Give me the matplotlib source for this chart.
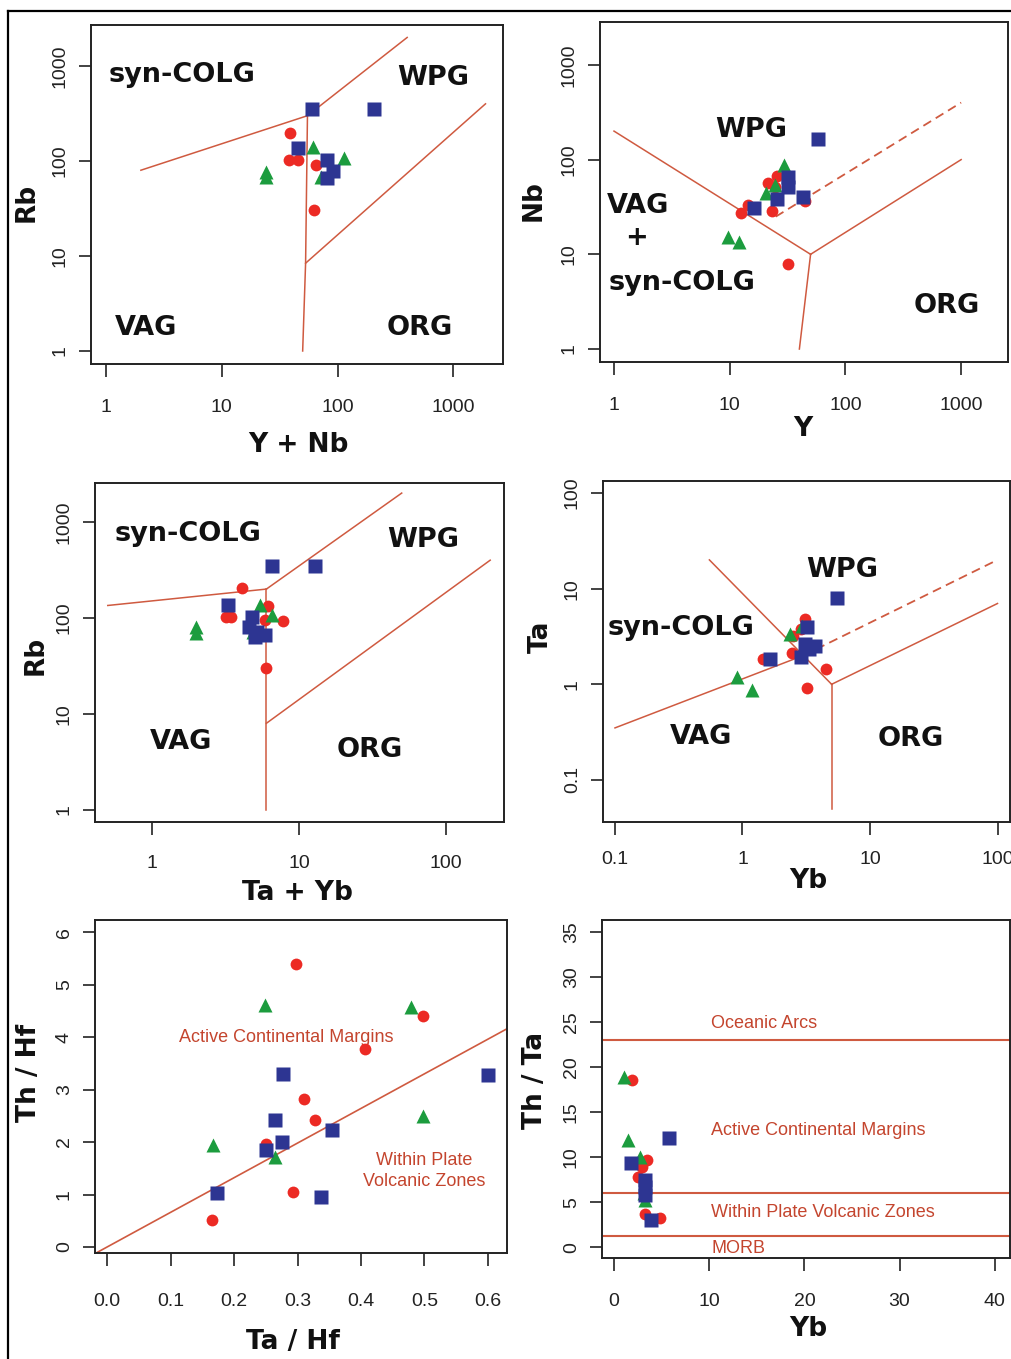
import matplotlib
matplotlib.use('Agg')
import matplotlib.pyplot as plt
from matplotlib.lines import Line2D

W, H, DPI = 1012, 1359, 100

RED = '#ec2a24'
GREEN = '#1c9c3e'
BLUE = '#2d3592'
LINEC = '#cf5a40'
TXTC = '#c4452e'

# ---------------- Panel 1: Rb vs Y+Nb ----------------
p1_red_x = [38.6, 38, 45.5, 65.5, 63]
p1_red_y = [195, 103, 103, 91, 30.5]
p1_green_x = [24.3, 24.3, 61, 113, 72]
p1_green_y = [77, 68, 141, 107, 68]
p1_blue_x = [60.5, 208, 45.5, 81, 91, 81]
p1_blue_y = [352, 352, 138, 103, 79, 66]
p1_bounds = [([2, 55], [80, 300]), ([55, 400], [300, 2000]),
             ([55, 53, 50], [300, 8.4, 1]), ([53, 1900], [8.4, 400])]

# ---------------- Panel 2: Nb vs Y ----------------
p2_red_x = [12.5, 14.5, 23, 21.3, 25.5, 45, 31.7, 24.6]
p2_red_y = [27, 33, 29, 57, 67, 37, 7.9, 52]
p2_green_x = [29.7, 20.5, 24.6, 9.7, 12]
p2_green_y = [88, 44, 54, 15.4, 13.6]
p2_blue_x = [58, 31.7, 31.7, 25.5, 43, 16.3]
p2_blue_y = [164, 66, 52, 38, 40, 30.6]
p2_bounds = [([1, 50], [200, 10]), ([50, 1000], [10, 100]), ([50, 40], [10, 1])]
p2_dashed = ([25, 1000], [25, 400])

# ---------------- Panel 3: Rb vs Ta+Yb ----------------
p3_red_x = [4.07, 3.2, 3.45, 6.2, 5.87, 7.75, 6.0]
p3_red_y = [204, 103, 103, 133, 95, 92, 30]
p3_green_x = [2.0, 2.0, 5.43, 6.6, 4.9]
p3_green_y = [81, 69, 137, 107, 72]
p3_blue_x = [6.6, 12.8, 3.3, 4.77, 4.6, 5.15, 5.87, 5.0]
p3_blue_y = [350, 350, 137, 103, 81, 72, 66.5, 64]
p3_bounds = [([0.5, 6], [135, 200]), ([6, 50], [200, 2000]),
             ([6, 6], [200, 1]), ([6, 200], [8, 400])]

# ---------------- Panel 4: Ta vs Yb ----------------
p4_red_x = [3.09, 1.46, 2.43, 2.5, 4.5, 3.2, 2.9]
p4_red_y = [4.8, 1.86, 2.15, 3.2, 1.44, 0.92, 3.8]
p4_green_x = [2.95, 2.36, 0.91, 1.18]
p4_green_y = [4.1, 3.36, 1.2, 0.87]
p4_blue_x = [5.5, 3.2, 3.09, 3.7, 2.9, 1.64, 3.3]
p4_blue_y = [8.0, 3.95, 2.64, 2.53, 1.91, 1.83, 2.33]
p4_bounds = [([0.1, 3], [0.35, 2]), ([0.55, 5], [20, 1]),
             ([5, 5], [1, 0.05]), ([5, 100], [1, 7])]
p4_dashed = ([3, 100], [2, 20])

# ---------------- Panel 5: Th/Hf vs Ta/Hf ----------------
p5_red_x = [0.297, 0.497, 0.406, 0.311, 0.328, 0.251, 0.293, 0.165]
p5_red_y = [5.39, 4.40, 3.78, 2.82, 2.42, 1.96, 1.05, 0.51]
p5_green_x = [0.249, 0.479, 0.497, 0.167, 0.265]
p5_green_y = [4.61, 4.58, 2.50, 1.94, 1.72]
p5_blue_x = [0.277, 0.600, 0.265, 0.275, 0.251, 0.355, 0.173, 0.337]
p5_blue_y = [3.30, 3.28, 2.42, 2.01, 1.85, 2.22, 1.02, 0.96]
p5_bound = ([-0.05, 0.70], [-0.33, 4.62])

# ---------------- Panel 6: Th/Ta vs Yb ----------------
p6_red_x = [1.92, 3.43, 2.55, 2.9, 3.26, 4.83]
p6_red_y = [18.5, 9.7, 7.8, 8.9, 3.7, 3.26]
p6_green_x = [1.08, 1.5, 2.73, 3.26, 3.2]
p6_green_y = [18.9, 11.9, 10.0, 5.2, 6.0]
p6_blue_x = [5.78, 1.79, 3.26, 3.26, 3.26, 3.89]
p6_blue_y = [12.1, 9.3, 7.4, 6.7, 5.8, 3.0]
p6_levels = [23, 6, 1.2]

log_ticks_1 = [1, 10, 100, 1000]
log_labels_1 = ['1', '10', '100', '1000']
log_ticks_3x = [1, 10, 100]
log_labels_3x = ['1', '10', '100']
log_ticks_4 = [0.1, 1, 10, 100]
log_labels_4 = ['0.1', '1', '10', '100']
p5_xticks = [0.0, 0.1, 0.2, 0.3, 0.4, 0.5, 0.6]
p5_xlabels = ['0.0', '0.1', '0.2', '0.3', '0.4', '0.5', '0.6']
p5_yticks = [0, 1, 2, 3, 4, 5, 6]
p6_xticks = [0, 10, 20, 30, 40]
p6_yticks = [0, 5, 10, 15, 20, 25, 30, 35]

fig = plt.figure(figsize=(W / DPI, H / DPI), dpi=DPI, facecolor='white')

TICKFONT = dict(family='Liberation Sans', size=14, color='#222222')
LABFONT = dict(family='DejaVu Sans', size=19, weight='bold', color='#111111')
REGFONT = dict(family='DejaVu Sans', size=19.5, weight='bold', color='#111111')
ZONEFONT = dict(family='Liberation Sans', size=13, color=TXTC)


def make_ax(l, t, r, b):
    ax = fig.add_axes([l / W, 1 - b / H, (r - l) / W, (b - t) / H])
    for s in ax.spines.values():
        s.set_linewidth(1.4)
        s.set_color('#222222')
    return ax


def style(ax, xt, xl, yt, yl, logx=False, logy=False, xpad=14, ypad=7):
    if logx:
        ax.set_xscale('log')
    if logy:
        ax.set_yscale('log')
    ax.set_xticks(xt)
    ax.set_xticklabels(xl)
    ax.set_yticks(yt)
    ax.set_yticklabels(yl)
    ax.minorticks_off()
    ax.tick_params(axis='both', length=9, width=1.2, color='#222222')
    ax.tick_params(axis='x', pad=xpad)
    ax.tick_params(axis='y', pad=ypad)
    for lab in ax.get_xticklabels():
        lab.set(**TICKFONT)
    for lab in ax.get_yticklabels():
        lab.set(**TICKFONT)
        lab.set_rotation(90)
        lab.set_va('center')


def pts(ax, rx, ry, gx, gy, bx, by):
    ax.plot(rx, ry, 'o', color=RED, ms=8.5, mec='none', zorder=5)
    ax.plot(gx, gy, '^', color=GREEN, ms=10.5, mec='none', zorder=6)
    ax.plot(bx, by, 's', color=BLUE, ms=10, mec='none', zorder=7)


def labels(ax, xl, xc, yl, yc, box):
    l, t, r, b = box
    ax.set_xlabel(xl, **LABFONT)
    ax.set_ylabel(yl, **LABFONT)
    ax.xaxis.set_label_coords((xc[0] - l) / (r - l), (b - xc[1]) / (b - t))
    ax.yaxis.set_label_coords((yc[0] - l) / (r - l), (b - yc[1]) / (b - t))
    ax.xaxis.label.set_va('center')
    ax.xaxis.label.set_ha('center')
    ax.yaxis.label.set_va('center')
    ax.yaxis.label.set_ha('center')


def region(ax, x, y, s):
    ax.text(x, y, s, transform=ax.transAxes, ha='center', va='center', **REGFONT)


# ---- Panel 1
box1 = (91, 25, 503, 364)
ax1 = make_ax(*box1)
for xs, ys in p1_bounds:
    ax1.plot(xs, ys, color=LINEC, lw=1.1)
pts(ax1, p1_red_x, p1_red_y, p1_green_x, p1_green_y, p1_blue_x, p1_blue_y)
style(ax1, log_ticks_1, log_labels_1, log_ticks_1, log_labels_1, True, True, xpad=16)
ax1.set_xlim(10 ** -0.13, 10 ** 3.43)
ax1.set_ylim(10 ** -0.137, 10 ** 3.432)
region(ax1, 0.221, 0.853, 'syn-COLG')
region(ax1, 0.830, 0.844, 'WPG')
region(ax1, 0.134, 0.106, 'VAG')
region(ax1, 0.799, 0.106, 'ORG')
labels(ax1, 'Y + Nb', (298, 445), 'Rb', (27, 202), box1)

# ---- Panel 2
box2 = (600, 22, 1008, 362)
ax2 = make_ax(*box2)
for xs, ys in p2_bounds:
    ax2.plot(xs, ys, color=LINEC, lw=1.1)
ax2.plot(*p2_dashed, color=LINEC, lw=1.3, ls=(0, (5, 3)))
pts(ax2, p2_red_x, p2_red_y, p2_green_x, p2_green_y, p2_blue_x, p2_blue_y)
style(ax2, log_ticks_1, log_labels_1, log_ticks_1, log_labels_1, True, True, xpad=16)
ax2.set_xlim(10 ** -0.121, 10 ** 3.405)
ax2.set_ylim(10 ** -0.137, 10 ** 3.453)
region(ax2, 0.371, 0.682, 'WPG')
region(ax2, 0.093, 0.459, 'VAG')
region(ax2, 0.090, 0.365, '+')
region(ax2, 0.202, 0.232, 'syn-COLG')
region(ax2, 0.851, 0.165, 'ORG')
labels(ax2, 'Y', (803, 429), 'Nb', (534, 201), box2)

# ---- Panel 3
box3 = (95, 483, 504, 822)
ax3 = make_ax(*box3)
for xs, ys in p3_bounds:
    ax3.plot(xs, ys, color=LINEC, lw=1.1)
pts(ax3, p3_red_x, p3_red_y, p3_green_x, p3_green_y, p3_blue_x, p3_blue_y)
style(ax3, log_ticks_3x, log_labels_3x, log_ticks_1, log_labels_1, True, True, xpad=15)
ax3.set_xlim(10 ** -0.388, 10 ** 2.395)
ax3.set_ylim(10 ** -0.125, 10 ** 3.406)
region(ax3, 0.227, 0.850, 'syn-COLG')
region(ax3, 0.802, 0.832, 'WPG')
region(ax3, 0.210, 0.236, 'VAG')
region(ax3, 0.672, 0.212, 'ORG')
labels(ax3, 'Ta + Yb', (297, 893), 'Rb', (36, 655), box3)

# ---- Panel 4
box4 = (603, 481, 1010, 822)
ax4 = make_ax(*box4)
for xs, ys in p4_bounds:
    ax4.plot(xs, ys, color=LINEC, lw=1.1)
ax4.plot(*p4_dashed, color=LINEC, lw=1.3, ls=(0, (5, 3)))
pts(ax4, p4_red_x, p4_red_y, p4_green_x, p4_green_y, p4_blue_x, p4_blue_y)
style(ax4, log_ticks_4, log_labels_4, log_ticks_4, log_labels_4, True, True, xpad=12)
ax4.set_xlim(10 ** -1.094, 10 ** 2.098)
ax4.set_ylim(10 ** -1.44, 10 ** 2.126)
region(ax4, 0.587, 0.739, 'WPG')
region(ax4, 0.192, 0.569, 'syn-COLG')
region(ax4, 0.241, 0.249, 'VAG')
region(ax4, 0.757, 0.243, 'ORG')
labels(ax4, 'Yb', (808, 881), 'Ta', (541, 637), box4)

# ---- Panel 5
box5 = (95, 920, 507, 1253)
ax5 = make_ax(*box5)
ax5.plot(*p5_bound, color=LINEC, lw=1.2)
pts(ax5, p5_red_x, p5_red_y, p5_green_x, p5_green_y, p5_blue_x, p5_blue_y)
style(ax5, p5_xticks, p5_xlabels, p5_yticks, [str(v) for v in p5_yticks], xpad=20)
ax5.set_xlim(-0.019, 0.630)
ax5.set_ylim(-0.114, 6.23)
ax5.text(0.283, 4.0, 'Active Continental Margins', ha='center', va='center', **ZONEFONT)
ax5.text(0.50, 1.45, 'Within Plate\nVolcanic Zones', ha='center', va='center',
         linespacing=1.25, **ZONEFONT)
labels(ax5, 'Ta / Hf', (293, 1342), 'Th / Hf', (29, 1073), box5)

# ---- Panel 6
box6 = (602, 920, 1010, 1258)
ax6 = make_ax(*box6)
for lv in p6_levels:
    ax6.axhline(lv, color=LINEC, lw=1.5)
pts(ax6, p6_red_x, p6_red_y, p6_green_x, p6_green_y, p6_blue_x, p6_blue_y)
style(ax6, p6_xticks, [str(v) for v in p6_xticks], p6_yticks, [str(v) for v in p6_yticks], xpad=16)
ax6.set_xlim(-1.26, 41.6)
ax6.set_ylim(-1.2, 36.3)
ax6.text(10.2, 24.8, 'Oceanic Arcs', ha='left', va='center', **ZONEFONT)
ax6.text(10.2, 13.0, 'Active Continental Margins', ha='left', va='center', **ZONEFONT)
ax6.text(10.2, 3.8, 'Within Plate Volcanic Zones', ha='left', va='center', **ZONEFONT)
ax6.text(10.2, -0.1, 'MORB', ha='left', va='center', **ZONEFONT)
labels(ax6, 'Yb', (808, 1329), 'Th / Ta', (535, 1080), box6)

# Outer frame (left and top edges)
fig.add_artist(Line2D([8 / W, 8 / W], [0, 1 - 11 / H], transform=fig.transFigure,
                      color='black', lw=1.6))
fig.add_artist(Line2D([8 / W, 1], [1 - 11 / H, 1 - 11 / H], transform=fig.transFigure,
                      color='black', lw=1.6))

fig.savefig('out.png', dpi=DPI, facecolor='white')
